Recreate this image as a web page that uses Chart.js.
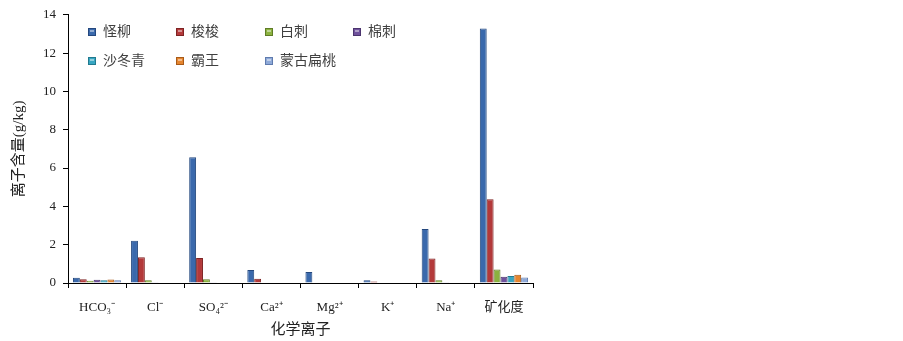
<!DOCTYPE html>
<html><head><meta charset="utf-8">
<script src="https://cdn.jsdelivr.net/npm/chart.js@4/dist/chart.umd.min.js"></script>
<style>html,body{margin:0;padding:0;background:#fff}#wrap{width:903px;height:341px;position:relative}</style>
</head><body><div id="wrap"><canvas id="c"></canvas></div>
<script>
const categories = ['HCO₃⁻','Cl⁻','SO₄²⁻','Ca²⁺','Mg²⁺','K⁺','Na⁺','矿化度'];
const seriesNames = ['怪柳','梭梭','白刺','棉刺','沙冬青','霸王','蒙古扁桃'];
const guailiu       = [0.28, 2.20, 6.56, 0.68, 0.58, 0.15, 2.82, 13.28];
const suosuo        = [0.20, 1.35, 1.30, 0.22, 0.00, 0.08, 1.28, 4.37];
const baici         = [0.12, 0.15, 0.19, 0.03, 0.00, 0.00, 0.15, 0.70];
const mianci        = [0.17, 0.01, 0.01, 0.02, 0.00, 0.00, 0.01, 0.32];
const shadongqing   = [0.14, 0.02, 0.02, 0.00, 0.00, 0.00, 0.02, 0.36];
const bawang        = [0.18, 0.03, 0.03, 0.00, 0.00, 0.00, 0.03, 0.43];
const menggubiantao = [0.14, 0.00, 0.00, 0.00, 0.00, 0.00, 0.00, 0.29];
const yTicks = [0, 2, 4, 6, 8, 10, 12, 14];
const yTitle = '离子含量(g/kg)';
const xTitle = '化学离子';

const seriesValues = [guailiu, suosuo, baici, mianci, shadongqing, bawang, menggubiantao];
const fills   = ['#3A69AC','#B3393A','#8BB23F','#6F519C','#37A6C2','#E5852F','#8EA9D8'];
const borders = ['#24487E','#7E2323','#5F7C26','#4B346E','#217A8F','#A85A18','#5F7BAE'];

const CJK = '"Liberation Serif", "Noto Sans CJK SC", serif';

const legendPlugin = {
  id: 'inlineLegend',
  afterDraw(chart) {
    const ctx = chart.ctx;
    const cols = [88, 176, 265, 353];
    const rows = [32, 61];
    ctx.save();
    ctx.font = '14px ' + CJK;
    ctx.textBaseline = 'middle';
    ctx.textAlign = 'left';
    chart.data.datasets.forEach((ds, i) => {
      const x = cols[i % 4], y = rows[Math.floor(i / 4)];
      ctx.fillStyle = ds.backgroundColor;
      ctx.fillRect(x, y - 4, 8, 8);
      ctx.strokeStyle = ds.borderColor;
      ctx.lineWidth = 1;
      ctx.strokeRect(x + 0.5, y - 3.5, 7, 7);
      ctx.fillStyle = 'rgba(255,255,255,0.45)';
      ctx.fillRect(x + 2, y - 2, 4, 2);
      ctx.fillStyle = '#404040';
      ctx.fillText(ds.label, x + 15, y);
    });
    ctx.restore();
  }
};

new Chart(document.getElementById('c'), {
  type: 'bar',
  data: {
    labels: categories,
    datasets: seriesNames.map((n, i) => ({
      label: n,
      data: seriesValues[i],
      backgroundColor: fills[i],
      borderColor: borders[i],
      borderWidth: 1,
      categoryPercentage: 0.83,
      barPercentage: 1.0
    }))
  },
  options: {
    responsive: true,
    maintainAspectRatio: false,
    animation: false,
    layout: { padding: { top: 10, right: 370, left: 0, bottom: 0 } },
    plugins: { legend: { display: false }, tooltip: { enabled: false } },
    scales: {
      x: {
        grid: { display: true, drawOnChartArea: false, drawTicks: true, tickLength: 5, color: '#000', offset: true },
        border: { color: '#000', width: 1 },
        ticks: { color: '#222', font: { family: CJK, size: 13 }, padding: 12, maxRotation: 0, autoSkip: false },
        title: { display: true, text: xTitle, color: '#222', font: { family: CJK, size: 15 }, padding: { top: 4, bottom: 2 } },
        afterFit(scale) { scale.height = 58; }
      },
      y: {
        min: 0, max: 14,
        afterBuildTicks(scale) { scale.ticks = yTicks.map(v => ({ value: v })); },
        grid: { display: true, drawOnChartArea: false, drawTicks: true, tickLength: 5, color: '#000' },
        border: { color: '#000', width: 1 },
        ticks: { color: '#222', font: { family: CJK, size: 13 }, padding: 7 },
        title: { display: true, text: yTitle, color: '#222', font: { family: CJK, size: 15 }, padding: { top: 10, bottom: 0 } },
        afterFit(scale) { scale.width = 68; }
      }
    }
  },
  plugins: [legendPlugin]
});
</script>
</body></html>
